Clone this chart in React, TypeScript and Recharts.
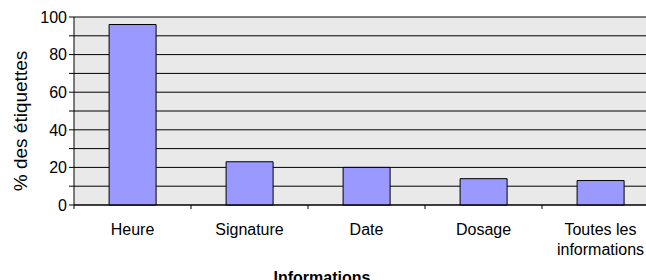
import React from 'react';
import { BarChart, Bar, XAxis, YAxis, CartesianGrid } from 'recharts';

const categories = ['Heure', 'Signature', 'Date', 'Dosage', 'Toutes les\ninformations'];
const values = [96, 23, 20, 14, 13];
const yTicks = [0, 10, 20, 30, 40, 50, 60, 70, 80, 90, 100];
const boundaryTicks = [0, 1, 2, 3, 4, 5];

const data = categories.map((c, i) => ({ name: c, value: values[i] }));

const FONT = 'Liberation Sans, Arial, sans-serif';

const XTick = (props: any) => {
  const { x, y, payload, width, index } = props;
  const lines = String(payload.value).split('\n');
  const band = typeof width === 'number' && width > 0 ? width / categories.length : 0;
  return (
    <g>
      {band > 0 && (
        <line x1={x - band / 2} x2={x - band / 2} y1={y} y2={y + 4} stroke="#000" />
      )}
      {band > 0 && index === categories.length - 1 && (
        <line x1={x + band / 2} x2={x + band / 2} y1={y} y2={y + 4} stroke="#000" />
      )}
      <text x={x} y={y} textAnchor="middle" fontSize={16} fontFamily={FONT} fill="#000">
        {lines.map((l, i) => (
          <tspan key={i} x={x} dy={i === 0 ? 29.5 : 20}>{l}</tspan>
        ))}
      </text>
    </g>
  );
};

const YTick = (props: any) => {
  const { x, y, payload } = props;
  if (payload.value % 20 !== 0) return <g />;
  return (
    <text x={x} y={y} dy={5.7} textAnchor="end" fontSize={16} fontFamily={FONT} fill="#000">
      {payload.value}
    </text>
  );
};

const YTitle = (props: any) => {
  const { viewBox } = props;
  const cx = viewBox.x + 20;
  const cy = viewBox.y + viewBox.height / 2 + 10;
  return (
    <text
      x={cx}
      y={cy}
      transform={`rotate(-90 ${cx} ${cy})`}
      textAnchor="middle"
      dy={6.5}
      fontSize={19}
      fontFamily={FONT}
      fill="#000"
    >
      % des étiquettes
    </text>
  );
};

const XTitle = (props: any) => {
  const { viewBox } = props;
  return (
    <text
      x={viewBox.x + 248}
      y={viewBox.y + 77.5}
      textAnchor="middle"
      fontSize={16}
      fontWeight="bold"
      fontFamily={FONT}
      fill="#000"
    >
      Informations
    </text>
  );
};

export default function App() {
  return (
    <div style={{ position: 'absolute', left: 0, top: 0, width: 646, height: 280, overflow: 'hidden', background: '#fff' }}>
      <BarChart
        width={680}
        height={290}
        data={data}
        margin={{ top: 17, right: 21, left: 0, bottom: 10 }}
        barCategoryGap="30%"
      >
        <CartesianGrid xAxisId="cat" vertical={false} stroke="#000" fill="#E9E9E9" />
        <XAxis
          xAxisId="grid"
          type="number"
          domain={[0, 5]}
          ticks={boundaryTicks}
          tick={false}
          axisLine={false}
          tickLine={{ stroke: '#000' }}
          tickSize={4}
          height={0}
          allowDataOverflow
        />
        <XAxis
          xAxisId="cat"
          dataKey="name"
          type="category"
          tick={<XTick />}
          tickLine={false}
          tickSize={0}
          tickMargin={0}
          axisLine={{ stroke: '#000' }}
          height={75}
          interval={0}
          label={{ content: <XTitle /> }}
        />
        <YAxis
          type="number"
          domain={[0, 100]}
          ticks={yTicks}
          interval={0}
          width={74}
          tick={<YTick />}
          tickSize={5}
          tickMargin={2}
          tickLine={{ stroke: '#000' }}
          axisLine={{ stroke: '#000' }}
          label={{ content: <YTitle /> }}
        />
        <Bar
          xAxisId="cat"
          dataKey="value"
          fill="#9999FF"
          stroke="#000"
          strokeWidth={1}
          isAnimationActive={false}
        />
      </BarChart>
    </div>
  );
}
